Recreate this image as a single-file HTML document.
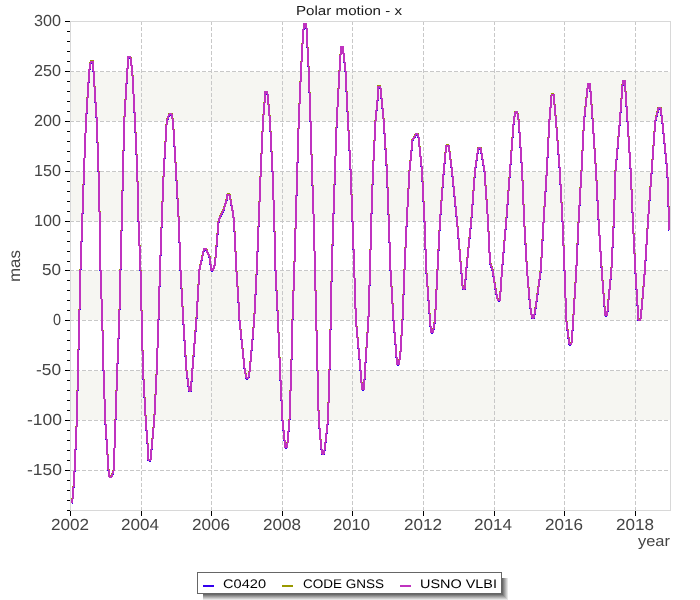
<!DOCTYPE html>
<html><head><meta charset="utf-8"><style>
html,body{margin:0;padding:0;background:#fff;}
svg{display:block;}
</style></head><body>
<svg width="700" height="600" viewBox="0 0 700 600" style="will-change:transform">
<rect width="700" height="600" fill="#fff"/>
<rect x="71" y="72" width="599" height="49" fill="#f6f6f2"/>
<rect x="71" y="172" width="599" height="49" fill="#f6f6f2"/>
<rect x="71" y="271" width="599" height="49" fill="#f6f6f2"/>
<rect x="71" y="371" width="599" height="49" fill="#f6f6f2"/>
<line x1="70" y1="470.5" x2="670" y2="470.5" stroke="#c8c8c8" stroke-width="1" stroke-dasharray="4 2"/>
<line x1="70" y1="420.5" x2="670" y2="420.5" stroke="#c8c8c8" stroke-width="1" stroke-dasharray="4 2"/>
<line x1="70" y1="370.5" x2="670" y2="370.5" stroke="#c8c8c8" stroke-width="1" stroke-dasharray="4 2"/>
<line x1="70" y1="320.5" x2="670" y2="320.5" stroke="#c8c8c8" stroke-width="1" stroke-dasharray="4 2"/>
<line x1="70" y1="270.5" x2="670" y2="270.5" stroke="#c8c8c8" stroke-width="1" stroke-dasharray="4 2"/>
<line x1="70" y1="221.5" x2="670" y2="221.5" stroke="#c8c8c8" stroke-width="1" stroke-dasharray="4 2"/>
<line x1="70" y1="171.5" x2="670" y2="171.5" stroke="#c8c8c8" stroke-width="1" stroke-dasharray="4 2"/>
<line x1="70" y1="121.5" x2="670" y2="121.5" stroke="#c8c8c8" stroke-width="1" stroke-dasharray="4 2"/>
<line x1="70" y1="71.5" x2="670" y2="71.5" stroke="#c8c8c8" stroke-width="1" stroke-dasharray="4 2"/>
<line x1="141.5" y1="21" x2="141.5" y2="510" stroke="#c8c8c8" stroke-width="1" stroke-dasharray="4 2"/>
<line x1="211.5" y1="21" x2="211.5" y2="510" stroke="#c8c8c8" stroke-width="1" stroke-dasharray="4 2"/>
<line x1="282.5" y1="21" x2="282.5" y2="510" stroke="#c8c8c8" stroke-width="1" stroke-dasharray="4 2"/>
<line x1="352.5" y1="21" x2="352.5" y2="510" stroke="#c8c8c8" stroke-width="1" stroke-dasharray="4 2"/>
<line x1="423.5" y1="21" x2="423.5" y2="510" stroke="#c8c8c8" stroke-width="1" stroke-dasharray="4 2"/>
<line x1="494.5" y1="21" x2="494.5" y2="510" stroke="#c8c8c8" stroke-width="1" stroke-dasharray="4 2"/>
<line x1="564.5" y1="21" x2="564.5" y2="510" stroke="#c8c8c8" stroke-width="1" stroke-dasharray="4 2"/>
<line x1="635.5" y1="21" x2="635.5" y2="510" stroke="#c8c8c8" stroke-width="1" stroke-dasharray="4 2"/>
<rect x="70.5" y="21.5" width="600" height="489" fill="none" stroke="#d8d8d8" stroke-width="1"/>
<rect x="67" y="510" width="3" height="1" fill="#000"/>
<rect x="67" y="500" width="3" height="1" fill="#000"/>
<rect x="67" y="490" width="3" height="1" fill="#000"/>
<rect x="67" y="480" width="3" height="1" fill="#000"/>
<rect x="65" y="470" width="5" height="1" fill="#000"/>
<rect x="67" y="460" width="3" height="1" fill="#000"/>
<rect x="67" y="450" width="3" height="1" fill="#000"/>
<rect x="67" y="440" width="3" height="1" fill="#000"/>
<rect x="67" y="430" width="3" height="1" fill="#000"/>
<rect x="65" y="420" width="5" height="1" fill="#000"/>
<rect x="67" y="410" width="3" height="1" fill="#000"/>
<rect x="67" y="400" width="3" height="1" fill="#000"/>
<rect x="67" y="390" width="3" height="1" fill="#000"/>
<rect x="67" y="380" width="3" height="1" fill="#000"/>
<rect x="65" y="370" width="5" height="1" fill="#000"/>
<rect x="67" y="360" width="3" height="1" fill="#000"/>
<rect x="67" y="350" width="3" height="1" fill="#000"/>
<rect x="67" y="340" width="3" height="1" fill="#000"/>
<rect x="67" y="330" width="3" height="1" fill="#000"/>
<rect x="65" y="320" width="5" height="1" fill="#000"/>
<rect x="67" y="310" width="3" height="1" fill="#000"/>
<rect x="67" y="300" width="3" height="1" fill="#000"/>
<rect x="67" y="290" width="3" height="1" fill="#000"/>
<rect x="67" y="280" width="3" height="1" fill="#000"/>
<rect x="65" y="270" width="5" height="1" fill="#000"/>
<rect x="67" y="261" width="3" height="1" fill="#000"/>
<rect x="67" y="251" width="3" height="1" fill="#000"/>
<rect x="67" y="241" width="3" height="1" fill="#000"/>
<rect x="67" y="231" width="3" height="1" fill="#000"/>
<rect x="65" y="221" width="5" height="1" fill="#000"/>
<rect x="67" y="211" width="3" height="1" fill="#000"/>
<rect x="67" y="201" width="3" height="1" fill="#000"/>
<rect x="67" y="191" width="3" height="1" fill="#000"/>
<rect x="67" y="181" width="3" height="1" fill="#000"/>
<rect x="65" y="171" width="5" height="1" fill="#000"/>
<rect x="67" y="161" width="3" height="1" fill="#000"/>
<rect x="67" y="151" width="3" height="1" fill="#000"/>
<rect x="67" y="141" width="3" height="1" fill="#000"/>
<rect x="67" y="131" width="3" height="1" fill="#000"/>
<rect x="65" y="121" width="5" height="1" fill="#000"/>
<rect x="67" y="111" width="3" height="1" fill="#000"/>
<rect x="67" y="101" width="3" height="1" fill="#000"/>
<rect x="67" y="91" width="3" height="1" fill="#000"/>
<rect x="67" y="81" width="3" height="1" fill="#000"/>
<rect x="65" y="71" width="5" height="1" fill="#000"/>
<rect x="67" y="61" width="3" height="1" fill="#000"/>
<rect x="67" y="51" width="3" height="1" fill="#000"/>
<rect x="67" y="41" width="3" height="1" fill="#000"/>
<rect x="67" y="31" width="3" height="1" fill="#000"/>
<rect x="65" y="21" width="5" height="1" fill="#000"/>
<rect x="70" y="511" width="1" height="5" fill="#000"/>
<rect x="141" y="511" width="1" height="5" fill="#000"/>
<rect x="211" y="511" width="1" height="5" fill="#000"/>
<rect x="282" y="511" width="1" height="5" fill="#000"/>
<rect x="352" y="511" width="1" height="5" fill="#000"/>
<rect x="423" y="511" width="1" height="5" fill="#000"/>
<rect x="494" y="511" width="1" height="5" fill="#000"/>
<rect x="564" y="511" width="1" height="5" fill="#000"/>
<rect x="635" y="511" width="1" height="5" fill="#000"/>
<path d="M72.00 503.00 L73.00 495.00 L74.60 470.00 L76.80 420.00 L78.00 370.00 L79.25 320.00 L80.50 270.00 L82.25 221.00 L84.00 171.00 L86.00 121.00 L89.25 71.00 L90.50 63.00 L90.75 61.50 L92.75 61.50 L92.50 62.00 L93.50 71.00 L96.75 121.00 L98.50 171.00 L99.75 221.00 L100.50 270.00 L102.25 320.00 L103.50 370.00 L105.25 420.00 L108.50 470.00 L109.50 476.50 L111.50 476.50 L112.50 474.00 L113.75 470.00 L115.50 420.00 L117.25 370.00 L119.25 320.00 L120.50 270.00 L121.75 221.00 L123.00 171.00 L124.25 121.00 L127.25 71.00 L128.50 59.00 L128.25 57.00 L130.25 57.00 L130.50 58.00 L132.25 71.00 L135.00 121.00 L137.25 171.00 L138.50 221.00 L140.50 270.00 L141.75 320.00 L143.00 370.00 L145.75 420.00 L148.00 450.00 L148.50 460.00 L150.50 460.00 L151.00 455.00 L154.25 420.00 L156.75 370.00 L158.50 320.00 L160.00 270.00 L161.75 221.00 L163.75 171.00 L166.75 121.00 L169.00 115.00 L169.50 114.00 L171.50 114.00 L171.50 114.00 L173.00 121.00 L176.00 171.00 L178.75 221.00 L180.50 270.00 L183.25 320.00 L186.40 370.00 L188.50 386.00 L188.70 390.50 L190.70 390.50 L191.00 388.00 L192.40 370.00 L196.40 320.00 L199.40 270.00 L202.00 258.00 L204.00 249.00 L206.00 249.00 L210.00 258.00 L211.00 270.00 L213.00 270.00 L215.00 264.00 L218.60 221.00 L220.00 217.00 L223.60 210.00 L226.50 200.00 L227.40 194.60 L229.40 194.60 L230.00 197.00 L232.60 211.00 L234.00 221.00 L236.40 270.00 L238.40 300.00 L239.50 320.00 L244.70 370.00 L246.40 378.00 L248.40 378.00 L249.80 370.00 L254.20 320.00 L256.75 270.00 L258.75 221.00 L260.75 171.00 L263.00 121.00 L265.00 97.00 L265.25 92.00 L267.25 92.00 L267.50 94.00 L270.00 121.00 L272.50 171.00 L274.25 221.00 L275.50 270.00 L278.00 320.00 L280.00 370.00 L282.50 420.00 L284.50 440.00 L285.25 447.00 L287.25 447.00 L287.50 443.00 L289.50 420.00 L291.25 370.00 L292.50 320.00 L294.25 270.00 L295.75 221.00 L297.25 171.00 L298.75 121.00 L301.00 71.00 L303.00 35.00 L304.00 24.00 L306.00 24.00 L306.50 28.00 L308.75 71.00 L310.50 121.00 L312.00 171.00 L313.75 221.00 L315.00 270.00 L316.25 320.00 L317.50 370.00 L318.75 420.00 L321.00 445.00 L322.00 453.50 L324.00 453.50 L325.00 447.00 L328.00 420.00 L329.50 370.00 L330.75 320.00 L331.75 270.00 L333.25 221.00 L335.00 171.00 L336.75 121.00 L339.50 71.00 L341.00 47.00 L343.00 47.00 L343.00 49.00 L345.50 71.00 L348.00 121.00 L350.60 171.00 L352.50 221.00 L354.25 270.00 L355.90 320.00 L360.50 370.00 L362.00 389.00 L364.00 389.00 L365.00 370.00 L368.40 320.00 L370.00 270.00 L371.25 221.00 L373.00 171.00 L375.50 121.00 L378.00 95.00 L378.25 86.50 L380.25 86.50 L380.50 88.00 L383.75 121.00 L386.90 171.00 L388.75 221.00 L390.50 270.00 L393.50 320.00 L396.00 350.00 L397.00 364.00 L399.00 364.00 L400.50 352.00 L402.50 320.00 L404.50 270.00 L406.75 221.00 L409.50 171.00 L412.50 140.00 L414.50 137.00 L415.75 134.25 L417.75 134.25 L418.50 137.00 L422.00 171.00 L424.50 221.00 L426.25 270.00 L430.00 320.00 L431.00 332.00 L433.00 332.00 L435.00 320.00 L437.50 270.00 L440.00 221.00 L443.75 171.00 L446.00 148.00 L446.50 145.50 L448.50 145.50 L449.00 148.00 L452.00 171.00 L457.00 221.00 L461.25 270.00 L462.75 288.50 L464.75 288.50 L466.25 270.00 L471.25 221.00 L475.00 171.00 L478.00 150.00 L478.50 148.00 L480.50 148.00 L481.00 150.00 L484.50 171.00 L488.00 221.00 L490.00 262.50 L492.50 270.00 L496.00 292.00 L497.75 300.00 L499.75 300.00 L500.50 292.00 L502.00 270.00 L506.25 221.00 L510.00 171.00 L513.75 121.00 L515.25 112.25 L517.25 112.25 L518.75 121.00 L522.10 171.00 L524.20 221.00 L527.00 270.00 L530.00 305.00 L532.00 317.50 L534.00 317.50 L536.00 305.00 L540.80 270.00 L543.60 221.00 L546.80 171.00 L549.40 121.00 L551.60 94.60 L553.60 94.60 L556.00 121.00 L559.80 171.00 L562.50 221.00 L564.50 270.00 L566.30 320.00 L568.50 338.00 L569.40 344.00 L571.40 344.00 L572.00 338.00 L573.20 320.00 L576.30 270.00 L578.60 221.00 L581.50 171.00 L584.00 121.00 L588.00 84.00 L590.00 84.00 L592.70 121.00 L596.00 171.00 L598.60 221.00 L601.70 270.00 L604.00 300.00 L605.20 315.00 L607.20 315.00 L608.50 300.00 L611.40 270.00 L613.80 221.00 L615.50 171.00 L619.90 121.00 L622.80 81.00 L624.80 81.00 L627.50 121.00 L630.70 171.00 L632.90 221.00 L635.30 270.00 L637.50 305.00 L638.40 319.80 L640.40 319.80 L642.00 305.00 L644.90 270.00 L648.00 221.00 L651.70 171.00 L655.30 121.00 L658.50 108.00 L660.50 108.00 L662.30 121.00 L667.30 171.00 L669.00 221.00 L669.50 230.00" fill="none" stroke="#3300ee" stroke-width="2" stroke-linejoin="round" shape-rendering="crispEdges" transform="translate(0,0.5)"/>
<path d="M72.00 503.00 L73.00 495.00 L74.60 470.00 L76.80 420.00 L78.00 370.00 L79.25 320.00 L80.50 270.00 L82.25 221.00 L84.00 171.00 L86.00 121.00 L89.25 71.00 L90.50 63.00 L90.75 61.50 L92.75 61.50 L92.50 62.00 L93.50 71.00 L96.75 121.00 L98.50 171.00 L99.75 221.00 L100.50 270.00 L102.25 320.00 L103.50 370.00 L105.25 420.00 L108.50 470.00 L109.50 476.50 L111.50 476.50 L112.50 474.00 L113.75 470.00 L115.50 420.00 L117.25 370.00 L119.25 320.00 L120.50 270.00 L121.75 221.00 L123.00 171.00 L124.25 121.00 L127.25 71.00 L128.50 59.00 L128.25 57.00 L130.25 57.00 L130.50 58.00 L132.25 71.00 L135.00 121.00 L137.25 171.00 L138.50 221.00 L140.50 270.00 L141.75 320.00 L143.00 370.00 L145.75 420.00 L148.00 450.00 L148.50 460.00 L150.50 460.00 L151.00 455.00 L154.25 420.00 L156.75 370.00 L158.50 320.00 L160.00 270.00 L161.75 221.00 L163.75 171.00 L166.75 121.00 L169.00 115.00 L169.50 114.00 L171.50 114.00 L171.50 114.00 L173.00 121.00 L176.00 171.00 L178.75 221.00 L180.50 270.00 L183.25 320.00 L186.40 370.00 L188.50 386.00 L188.70 390.50 L190.70 390.50 L191.00 388.00 L192.40 370.00 L196.40 320.00 L199.40 270.00 L202.00 258.00 L204.00 249.00 L206.00 249.00 L210.00 258.00 L211.00 270.00 L213.00 270.00 L215.00 264.00 L218.60 221.00 L220.00 217.00 L223.60 210.00 L226.50 200.00 L227.40 194.60 L229.40 194.60 L230.00 197.00 L232.60 211.00 L234.00 221.00 L236.40 270.00 L238.40 300.00 L239.50 320.00 L244.70 370.00 L246.40 378.00 L248.40 378.00 L249.80 370.00 L254.20 320.00 L256.75 270.00 L258.75 221.00 L260.75 171.00 L263.00 121.00 L265.00 97.00 L265.25 92.00 L267.25 92.00 L267.50 94.00 L270.00 121.00 L272.50 171.00 L274.25 221.00 L275.50 270.00 L278.00 320.00 L280.00 370.00 L282.50 420.00 L284.50 440.00 L285.25 447.00 L287.25 447.00 L287.50 443.00 L289.50 420.00 L291.25 370.00 L292.50 320.00 L294.25 270.00 L295.75 221.00 L297.25 171.00 L298.75 121.00 L301.00 71.00 L303.00 35.00 L304.00 24.00 L306.00 24.00 L306.50 28.00 L308.75 71.00 L310.50 121.00 L312.00 171.00 L313.75 221.00 L315.00 270.00 L316.25 320.00 L317.50 370.00 L318.75 420.00 L321.00 445.00 L322.00 453.50 L324.00 453.50 L325.00 447.00 L328.00 420.00 L329.50 370.00 L330.75 320.00 L331.75 270.00 L333.25 221.00 L335.00 171.00 L336.75 121.00 L339.50 71.00 L341.00 47.00 L343.00 47.00 L343.00 49.00 L345.50 71.00 L348.00 121.00 L350.60 171.00 L352.50 221.00 L354.25 270.00 L355.90 320.00 L360.50 370.00 L362.00 389.00 L364.00 389.00 L365.00 370.00 L368.40 320.00 L370.00 270.00 L371.25 221.00 L373.00 171.00 L375.50 121.00 L378.00 95.00 L378.25 86.50 L380.25 86.50 L380.50 88.00 L383.75 121.00 L386.90 171.00 L388.75 221.00 L390.50 270.00 L393.50 320.00 L396.00 350.00 L397.00 364.00 L399.00 364.00 L400.50 352.00 L402.50 320.00 L404.50 270.00 L406.75 221.00 L409.50 171.00 L412.50 140.00 L414.50 137.00 L415.75 134.25 L417.75 134.25 L418.50 137.00 L422.00 171.00 L424.50 221.00 L426.25 270.00 L430.00 320.00 L431.00 332.00 L433.00 332.00 L435.00 320.00 L437.50 270.00 L440.00 221.00 L443.75 171.00 L446.00 148.00 L446.50 145.50 L448.50 145.50 L449.00 148.00 L452.00 171.00 L457.00 221.00 L461.25 270.00 L462.75 288.50 L464.75 288.50 L466.25 270.00 L471.25 221.00 L475.00 171.00 L478.00 150.00 L478.50 148.00 L480.50 148.00 L481.00 150.00 L484.50 171.00 L488.00 221.00 L490.00 262.50 L492.50 270.00 L496.00 292.00 L497.75 300.00 L499.75 300.00 L500.50 292.00 L502.00 270.00 L506.25 221.00 L510.00 171.00 L513.75 121.00 L515.25 112.25 L517.25 112.25 L518.75 121.00 L522.10 171.00 L524.20 221.00 L527.00 270.00 L530.00 305.00 L532.00 317.50 L534.00 317.50 L536.00 305.00 L540.80 270.00 L543.60 221.00 L546.80 171.00 L549.40 121.00 L551.60 94.60 L553.60 94.60 L556.00 121.00 L559.80 171.00 L562.50 221.00 L564.50 270.00 L566.30 320.00 L568.50 338.00 L569.40 344.00 L571.40 344.00 L572.00 338.00 L573.20 320.00 L576.30 270.00 L578.60 221.00 L581.50 171.00 L584.00 121.00 L588.00 84.00 L590.00 84.00 L592.70 121.00 L596.00 171.00 L598.60 221.00 L601.70 270.00 L604.00 300.00 L605.20 315.00 L607.20 315.00 L608.50 300.00 L611.40 270.00 L613.80 221.00 L615.50 171.00 L619.90 121.00 L622.80 81.00 L624.80 81.00 L627.50 121.00 L630.70 171.00 L632.90 221.00 L635.30 270.00 L637.50 305.00 L638.40 319.80 L640.40 319.80 L642.00 305.00 L644.90 270.00 L648.00 221.00 L651.70 171.00 L655.30 121.00 L658.50 108.00 L660.50 108.00 L662.30 121.00 L667.30 171.00 L669.00 221.00 L669.50 230.00" fill="none" stroke="#999900" stroke-width="2" stroke-linejoin="round" shape-rendering="crispEdges" transform="translate(0,-0.5)"/>
<path d="M72.00 503.00 L73.00 495.00 L74.60 470.00 L76.80 420.00 L78.00 370.00 L79.25 320.00 L80.50 270.00 L82.25 221.00 L84.00 171.00 L86.00 121.00 L89.25 71.00 L90.50 63.00 L90.75 61.50 L92.75 61.50 L92.50 62.00 L93.50 71.00 L96.75 121.00 L98.50 171.00 L99.75 221.00 L100.50 270.00 L102.25 320.00 L103.50 370.00 L105.25 420.00 L108.50 470.00 L109.50 476.50 L111.50 476.50 L112.50 474.00 L113.75 470.00 L115.50 420.00 L117.25 370.00 L119.25 320.00 L120.50 270.00 L121.75 221.00 L123.00 171.00 L124.25 121.00 L127.25 71.00 L128.50 59.00 L128.25 57.00 L130.25 57.00 L130.50 58.00 L132.25 71.00 L135.00 121.00 L137.25 171.00 L138.50 221.00 L140.50 270.00 L141.75 320.00 L143.00 370.00 L145.75 420.00 L148.00 450.00 L148.50 460.00 L150.50 460.00 L151.00 455.00 L154.25 420.00 L156.75 370.00 L158.50 320.00 L160.00 270.00 L161.75 221.00 L163.75 171.00 L166.75 121.00 L169.00 115.00 L169.50 114.00 L171.50 114.00 L171.50 114.00 L173.00 121.00 L176.00 171.00 L178.75 221.00 L180.50 270.00 L183.25 320.00 L186.40 370.00 L188.50 386.00 L188.70 390.50 L190.70 390.50 L191.00 388.00 L192.40 370.00 L196.40 320.00 L199.40 270.00 L202.00 258.00 L204.00 249.00 L206.00 249.00 L210.00 258.00 L211.00 270.00 L213.00 270.00 L215.00 264.00 L218.60 221.00 L220.00 217.00 L223.60 210.00 L226.50 200.00 L227.40 194.60 L229.40 194.60 L230.00 197.00 L232.60 211.00 L234.00 221.00 L236.40 270.00 L238.40 300.00 L239.50 320.00 L244.70 370.00 L246.40 378.00 L248.40 378.00 L249.80 370.00 L254.20 320.00 L256.75 270.00 L258.75 221.00 L260.75 171.00 L263.00 121.00 L265.00 97.00 L265.25 92.00 L267.25 92.00 L267.50 94.00 L270.00 121.00 L272.50 171.00 L274.25 221.00 L275.50 270.00 L278.00 320.00 L280.00 370.00 L282.50 420.00 L284.50 440.00 L285.25 447.00 L287.25 447.00 L287.50 443.00 L289.50 420.00 L291.25 370.00 L292.50 320.00 L294.25 270.00 L295.75 221.00 L297.25 171.00 L298.75 121.00 L301.00 71.00 L303.00 35.00 L304.00 24.00 L306.00 24.00 L306.50 28.00 L308.75 71.00 L310.50 121.00 L312.00 171.00 L313.75 221.00 L315.00 270.00 L316.25 320.00 L317.50 370.00 L318.75 420.00 L321.00 445.00 L322.00 453.50 L324.00 453.50 L325.00 447.00 L328.00 420.00 L329.50 370.00 L330.75 320.00 L331.75 270.00 L333.25 221.00 L335.00 171.00 L336.75 121.00 L339.50 71.00 L341.00 47.00 L343.00 47.00 L343.00 49.00 L345.50 71.00 L348.00 121.00 L350.60 171.00 L352.50 221.00 L354.25 270.00 L355.90 320.00 L360.50 370.00 L362.00 389.00 L364.00 389.00 L365.00 370.00 L368.40 320.00 L370.00 270.00 L371.25 221.00 L373.00 171.00 L375.50 121.00 L378.00 95.00 L378.25 86.50 L380.25 86.50 L380.50 88.00 L383.75 121.00 L386.90 171.00 L388.75 221.00 L390.50 270.00 L393.50 320.00 L396.00 350.00 L397.00 364.00 L399.00 364.00 L400.50 352.00 L402.50 320.00 L404.50 270.00 L406.75 221.00 L409.50 171.00 L412.50 140.00 L414.50 137.00 L415.75 134.25 L417.75 134.25 L418.50 137.00 L422.00 171.00 L424.50 221.00 L426.25 270.00 L430.00 320.00 L431.00 332.00 L433.00 332.00 L435.00 320.00 L437.50 270.00 L440.00 221.00 L443.75 171.00 L446.00 148.00 L446.50 145.50 L448.50 145.50 L449.00 148.00 L452.00 171.00 L457.00 221.00 L461.25 270.00 L462.75 288.50 L464.75 288.50 L466.25 270.00 L471.25 221.00 L475.00 171.00 L478.00 150.00 L478.50 148.00 L480.50 148.00 L481.00 150.00 L484.50 171.00 L488.00 221.00 L490.00 262.50 L492.50 270.00 L496.00 292.00 L497.75 300.00 L499.75 300.00 L500.50 292.00 L502.00 270.00 L506.25 221.00 L510.00 171.00 L513.75 121.00 L515.25 112.25 L517.25 112.25 L518.75 121.00 L522.10 171.00 L524.20 221.00 L527.00 270.00 L530.00 305.00 L532.00 317.50 L534.00 317.50 L536.00 305.00 L540.80 270.00 L543.60 221.00 L546.80 171.00 L549.40 121.00 L551.60 94.60 L553.60 94.60 L556.00 121.00 L559.80 171.00 L562.50 221.00 L564.50 270.00 L566.30 320.00 L568.50 338.00 L569.40 344.00 L571.40 344.00 L572.00 338.00 L573.20 320.00 L576.30 270.00 L578.60 221.00 L581.50 171.00 L584.00 121.00 L588.00 84.00 L590.00 84.00 L592.70 121.00 L596.00 171.00 L598.60 221.00 L601.70 270.00 L604.00 300.00 L605.20 315.00 L607.20 315.00 L608.50 300.00 L611.40 270.00 L613.80 221.00 L615.50 171.00 L619.90 121.00 L622.80 81.00 L624.80 81.00 L627.50 121.00 L630.70 171.00 L632.90 221.00 L635.30 270.00 L637.50 305.00 L638.40 319.80 L640.40 319.80 L642.00 305.00 L644.90 270.00 L648.00 221.00 L651.70 171.00 L655.30 121.00 L658.50 108.00 L660.50 108.00 L662.30 121.00 L667.30 171.00 L669.00 221.00 L669.50 230.00" fill="none" stroke="#bf33bf" stroke-width="2" stroke-linejoin="round" shape-rendering="crispEdges"/>
<defs><linearGradient id="gv" x1="0" y1="0" x2="0" y2="1"><stop offset="0" stop-color="#5e5e5e"/><stop offset="1" stop-color="#f2f2f2"/></linearGradient><linearGradient id="gh" x1="0" y1="0" x2="1" y2="0"><stop offset="0" stop-color="#5e5e5e"/><stop offset="1" stop-color="#f2f2f2"/></linearGradient></defs>
<rect x="502" y="578" width="6" height="22" fill="url(#gh)"/>
<polygon points="203,594 502,594 508,600 203,600" fill="url(#gv)"/>
<rect x="197.5" y="572.5" width="304" height="21" fill="#fff" stroke="#666" stroke-width="1"/>
<rect x="203" y="585" width="11" height="2" fill="#3300ee"/>
<rect x="282" y="585" width="11" height="2" fill="#999900"/>
<rect x="400" y="585" width="11" height="2" fill="#bf33bf"/>
<text x="27.00" y="475.00" font-family="Liberation Sans, sans-serif" font-size="16.00" textLength="35.00" lengthAdjust="spacingAndGlyphs" text-rendering="geometricPrecision" fill="#444">-150</text>
<text x="27.00" y="425.00" font-family="Liberation Sans, sans-serif" font-size="16.00" textLength="35.00" lengthAdjust="spacingAndGlyphs" text-rendering="geometricPrecision" fill="#444">-100</text>
<text x="36.00" y="375.00" font-family="Liberation Sans, sans-serif" font-size="16.00" textLength="25.00" lengthAdjust="spacingAndGlyphs" text-rendering="geometricPrecision" fill="#444">-50</text>
<text x="53.00" y="325.00" font-family="Liberation Sans, sans-serif" font-size="16.00" textLength="8.00" lengthAdjust="spacingAndGlyphs" text-rendering="geometricPrecision" fill="#444">0</text>
<text x="42.00" y="275.00" font-family="Liberation Sans, sans-serif" font-size="16.00" textLength="19.00" lengthAdjust="spacingAndGlyphs" text-rendering="geometricPrecision" fill="#444">50</text>
<text x="34.00" y="226.00" font-family="Liberation Sans, sans-serif" font-size="16.00" textLength="27.00" lengthAdjust="spacingAndGlyphs" text-rendering="geometricPrecision" fill="#444">100</text>
<text x="34.00" y="176.00" font-family="Liberation Sans, sans-serif" font-size="16.00" textLength="27.00" lengthAdjust="spacingAndGlyphs" text-rendering="geometricPrecision" fill="#444">150</text>
<text x="34.00" y="126.00" font-family="Liberation Sans, sans-serif" font-size="16.00" textLength="27.00" lengthAdjust="spacingAndGlyphs" text-rendering="geometricPrecision" fill="#444">200</text>
<text x="34.00" y="76.00" font-family="Liberation Sans, sans-serif" font-size="16.00" textLength="27.00" lengthAdjust="spacingAndGlyphs" text-rendering="geometricPrecision" fill="#444">250</text>
<text x="34.00" y="26.00" font-family="Liberation Sans, sans-serif" font-size="16.00" textLength="27.00" lengthAdjust="spacingAndGlyphs" text-rendering="geometricPrecision" fill="#444">300</text>
<text x="51.00" y="530.00" font-family="Liberation Sans, sans-serif" font-size="16.00" textLength="38.00" lengthAdjust="spacingAndGlyphs" text-rendering="geometricPrecision" fill="#444">2002</text>
<text x="121.00" y="530.00" font-family="Liberation Sans, sans-serif" font-size="16.00" textLength="38.00" lengthAdjust="spacingAndGlyphs" text-rendering="geometricPrecision" fill="#444">2004</text>
<text x="192.00" y="530.00" font-family="Liberation Sans, sans-serif" font-size="16.00" textLength="38.00" lengthAdjust="spacingAndGlyphs" text-rendering="geometricPrecision" fill="#444">2006</text>
<text x="263.00" y="530.00" font-family="Liberation Sans, sans-serif" font-size="16.00" textLength="38.00" lengthAdjust="spacingAndGlyphs" text-rendering="geometricPrecision" fill="#444">2008</text>
<text x="333.00" y="530.00" font-family="Liberation Sans, sans-serif" font-size="16.00" textLength="37.00" lengthAdjust="spacingAndGlyphs" text-rendering="geometricPrecision" fill="#444">2010</text>
<text x="404.00" y="530.00" font-family="Liberation Sans, sans-serif" font-size="16.00" textLength="38.00" lengthAdjust="spacingAndGlyphs" text-rendering="geometricPrecision" fill="#444">2012</text>
<text x="474.00" y="530.00" font-family="Liberation Sans, sans-serif" font-size="16.00" textLength="38.00" lengthAdjust="spacingAndGlyphs" text-rendering="geometricPrecision" fill="#444">2014</text>
<text x="545.00" y="530.00" font-family="Liberation Sans, sans-serif" font-size="16.00" textLength="38.00" lengthAdjust="spacingAndGlyphs" text-rendering="geometricPrecision" fill="#444">2016</text>
<text x="616.00" y="530.00" font-family="Liberation Sans, sans-serif" font-size="16.00" textLength="38.00" lengthAdjust="spacingAndGlyphs" text-rendering="geometricPrecision" fill="#444">2018</text>
<text x="296.00" y="15.00" font-family="Liberation Sans, sans-serif" font-size="13.00" textLength="106.00" lengthAdjust="spacingAndGlyphs" text-rendering="geometricPrecision" fill="#1a1a1a">Polar motion - x</text>
<text x="638.00" y="546.00" font-family="Liberation Sans, sans-serif" font-size="15.00" textLength="32.00" lengthAdjust="spacingAndGlyphs" text-rendering="geometricPrecision" fill="#444">year</text>
<text transform="translate(20.00,282.00) rotate(-90)" font-family="Liberation Sans, sans-serif" font-size="15.97" textLength="32.00" lengthAdjust="spacingAndGlyphs" text-rendering="geometricPrecision" fill="#444">mas</text>
<text x="223.00" y="588.00" font-family="Liberation Sans, sans-serif" font-size="12.50" textLength="43.00" lengthAdjust="spacingAndGlyphs" text-rendering="geometricPrecision" fill="#000">C0420</text>
<text x="303.00" y="588.00" font-family="Liberation Sans, sans-serif" font-size="12.50" textLength="81.00" lengthAdjust="spacingAndGlyphs" text-rendering="geometricPrecision" fill="#000">CODE GNSS</text>
<text x="420.00" y="588.00" font-family="Liberation Sans, sans-serif" font-size="12.50" textLength="77.00" lengthAdjust="spacingAndGlyphs" text-rendering="geometricPrecision" fill="#000">USNO VLBI</text>
</svg>
</body></html>
